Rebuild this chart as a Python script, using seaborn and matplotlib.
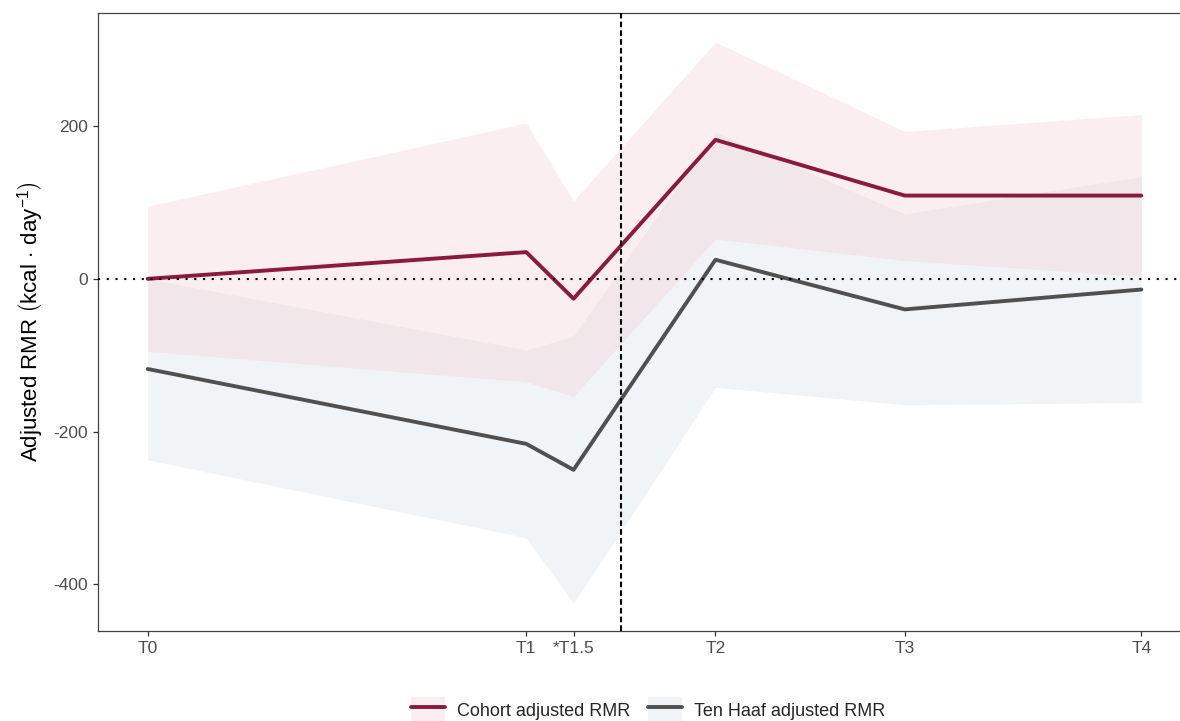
import matplotlib
matplotlib.use("Agg")
import matplotlib.pyplot as plt
from matplotlib.patches import Patch
from matplotlib.lines import Line2D
import seaborn as sns
import pandas as pd

# Time points (months) and their labels
time_points = [0, 8, 9, 12, 16, 21]
time_labels = ["T0", "T1", "*T1.5", "T2", "T3", "T4"]

# Cohort-adjusted RMR: mean with 95% CI
cohort_mean = [0, 35, -26, 182, 109, 109]
cohort_lo = [-95, -135, -154, 52, 24, 3]
cohort_hi = [95, 204, 102, 310, 193, 215]

# Ten Haaf-adjusted RMR: mean with 95% CI
haaf_mean = [-118, -216, -250, 25, -40, -14]
haaf_lo = [-237, -339, -425, -142, -165, -162]
haaf_hi = [0, -93, -75, 192, 85, 134]

series_names = ["Cohort adjusted RMR", "Ten Haaf adjusted RMR"]
line_colors = {"Cohort adjusted RMR": "#8B1A3E", "Ten Haaf adjusted RMR": "#505050"}
band_colors = {"Cohort adjusted RMR": "#F3D1D4", "Ten Haaf adjusted RMR": "#D7E1E9"}
band_alpha = 0.35

sns.set_theme(style="ticks")
plt.rcParams["font.family"] = ["Liberation Sans", "DejaVu Sans"]
plt.rcParams["mathtext.fontset"] = "custom"
plt.rcParams["mathtext.rm"] = "Liberation Sans"
plt.rcParams["mathtext.it"] = "Liberation Sans"

df = pd.DataFrame({
    "time": time_points * 2,
    "rmr": cohort_mean + haaf_mean,
    "series": [series_names[0]] * len(time_points) + [series_names[1]] * len(time_points),
})

fig = plt.figure(figsize=(11.8, 7.21), dpi=100)
ax = fig.add_axes([98 / 1180, 90 / 721, 1093 / 1180, 618 / 721])

# Confidence bands
ax.fill_between(time_points, haaf_lo, haaf_hi, color=band_colors[series_names[1]],
                alpha=band_alpha, linewidth=0, zorder=1)
ax.fill_between(time_points, cohort_lo, cohort_hi, color=band_colors[series_names[0]],
                alpha=band_alpha, linewidth=0, zorder=1)

# Mean lines
sns.lineplot(data=df, x="time", y="rmr", hue="series", palette=line_colors,
             hue_order=series_names, linewidth=2.8, legend=False, ax=ax,
             zorder=3)

# Reference lines
ax.axhline(0, color="black", linewidth=1.5, linestyle=(0, (1, 3.2)), zorder=4)
ax.axvline(10, color="black", linewidth=1.5, linestyle=(0, (2.7, 1.5)), zorder=4)

ax.set_xlim(-1.05, 22.05)
ax.set_ylim(-461, 348)
ax.set_xticks(time_points)
ax.set_xticklabels(time_labels)
ax.set_yticks([-400, -200, 0, 200])
ax.set_yticklabels(["-400", "-200", "0", "200"])
ax.set_xlabel("")
ax.set_ylabel(r"Adjusted RMR $\left(\mathrm{kcal}\,\cdot\,\mathrm{day}^{-1}\right)$",
              fontsize=16, color="black", labelpad=5)

for side in ["left", "bottom", "top", "right"]:
    ax.spines[side].set_visible(True)
    ax.spines[side].set_color("#444444")
    ax.spines[side].set_linewidth(0.9)
ax.tick_params(axis="both", colors="#4D4D4D", labelsize=12.5, length=3.5, width=0.9,
               direction="out")
ax.tick_params(axis="both", color="#333333")
ax.tick_params(axis="x", pad=4)
ax.tick_params(axis="y", pad=4)

handles = []
for name in series_names:
    patch = Patch(facecolor=band_colors[name], alpha=band_alpha, edgecolor="none")
    line = Line2D([], [], color=line_colors[name], linewidth=2.8)
    handles.append((patch, line))

fig.legend(handles, series_names, loc="center", bbox_to_anchor=(648 / 1180, 11 / 721),
           ncol=2, frameon=False, fontsize=13, handlelength=1.9, handleheight=1.8,
           handletextpad=0.65, columnspacing=0.95)

fig.savefig("out.png", dpi=100)
